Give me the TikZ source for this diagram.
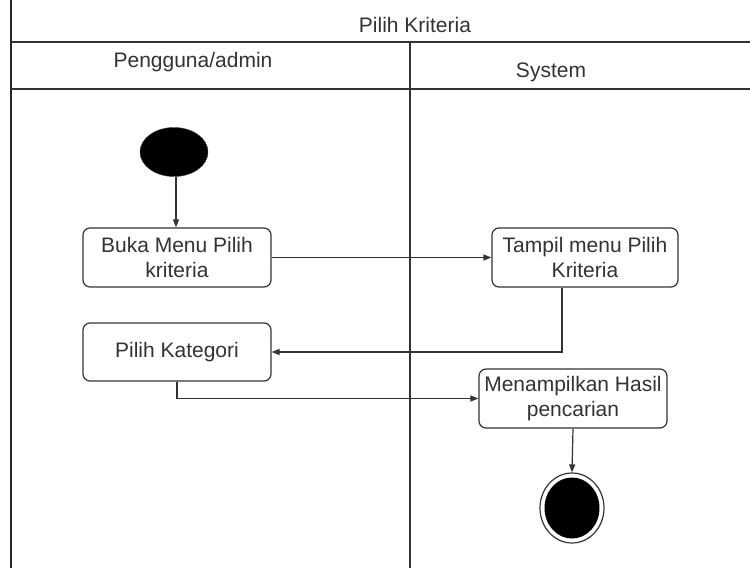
\documentclass[tikz,border=0pt]{standalone}
\usepackage{fontspec}
\setmainfont{Liberation Sans}
\usetikzlibrary{arrows.meta,shapes.geometric,calc}
\definecolor{ink}{HTML}{333333}
\tikzset{
  lane/.style={draw=ink, line width=1.3pt},
  action/.style={draw=ink, line width=1.2pt, rounded corners=7pt, fill=white,
    align=center, inner sep=0pt, text=ink,
    font=\fontsize{21}{25}\selectfont},
  label/.style={text=ink, font=\fontsize{21}{25}\selectfont, inner sep=0pt},
  flow/.style={draw=ink, line width=1.2pt, -{Triangle[length=8pt,width=6pt]}},
  plain/.style={draw=ink, line width=1.2pt},
}
\begin{document}
\begin{tikzpicture}[x=1pt, y=-1pt]
\useasboundingbox (0,0) rectangle (750,568);
\fill[white] (0,0) rectangle (750,568);

% swimlane frame
\draw[lane, line width=2pt, draw=black!85] (11,0) -- (11,568);
\draw[lane] (11,42) -- (750,42);
\draw[lane, line width=1.8pt] (11,89) -- (750,89);
\draw[lane] (410,42) -- (410,568);

\node[label, anchor=base] (title) at (415,32) {Pilih Kriteria};
\node[label, anchor=base] (laneA) at (193,67) {Pengguna/admin};
\node[label, anchor=base] (laneB) at (551,77) {System};

% activities
\node[ellipse, fill=black, draw=ink, minimum width=68pt, minimum height=49pt] (start) at (174,152) {};
\node[action, minimum width=188pt, minimum height=59pt] (buka) at (177,257.5) {Buka Menu Pilih\\kriteria};
\node[action, minimum width=186pt, minimum height=59pt] (tampil) at (585,257.5) {Tampil menu Pilih\\Kriteria};
\node[action, minimum width=188pt, minimum height=58pt] (kategori) at (177,352) {Pilih Kategori};
\node[action, minimum width=188pt, minimum height=59pt] (hasil) at (573,398.5) {Menampilkan Hasil\\pencarian};
\node[ellipse, draw=ink, line width=1.2pt, fill=white, minimum width=64pt, minimum height=70pt] (stop) at (572,508) {};
\node[ellipse, fill=black, minimum width=55pt, minimum height=61pt] (stopdot) at (stop.center) {};

% flows
\draw[flow] (start.south -| 176,0) -- (buka.north -| 176,0);
\draw[flow] (buka.east) -- (tampil.west);
\coordinate (tdown) at ($(tampil.south)+(-23,0)$);
\draw[flow] (tdown) |- (kategori.east);
\draw[flow] (kategori.south) |- (hasil.west);
\draw[flow] (hasil.south) -- (stop.north);
\end{tikzpicture}
\end{document}
